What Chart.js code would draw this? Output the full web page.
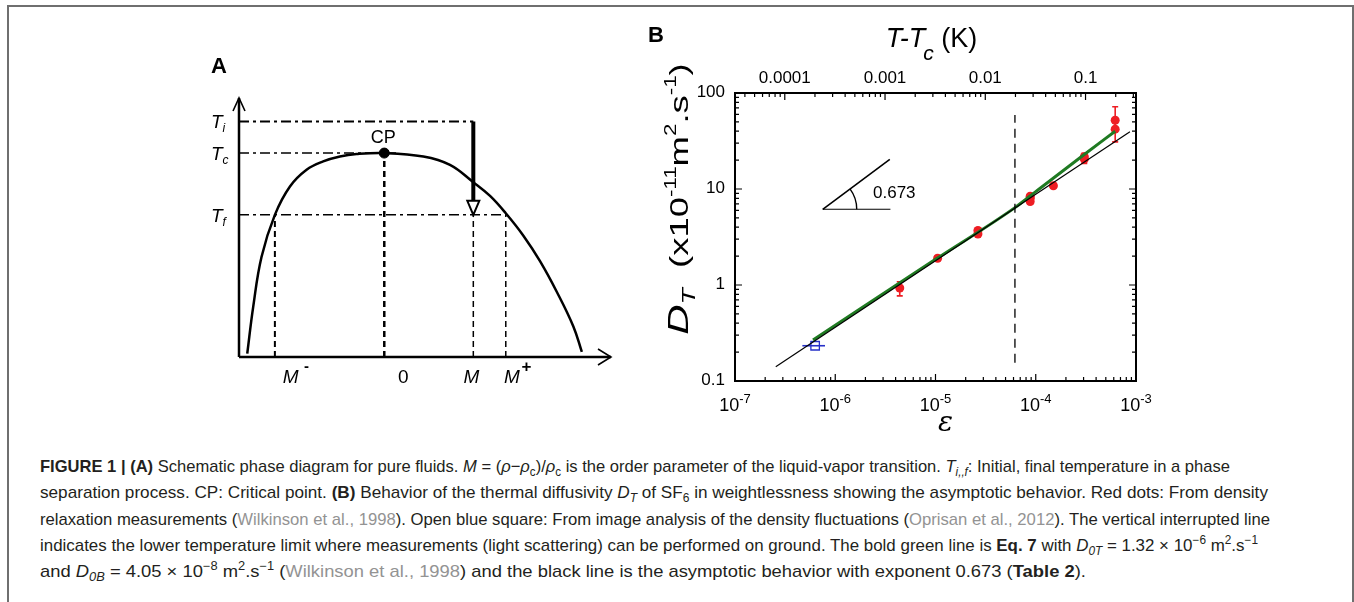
<!DOCTYPE html>
<html>
<head>
<meta charset="utf-8">
<script src="https://cdn.jsdelivr.net/npm/chart.js@4.4.1/dist/chart.umd.min.js"></script>
<style>
html, body { margin: 0; padding: 0; background: #fff; }
body { width: 1354px; height: 602px; position: relative; overflow: hidden; font-family: "Liberation Sans", Arial, sans-serif; }
#marco { position: absolute; left: 7px; top: 5px; width: 1347px; height: 640px; border: 2px solid #6f6f6f; border-bottom: none; box-sizing: border-box; }
#cajaA { position: absolute; left: 190px; top: 40px; }
#cajaB { position: absolute; left: 640px; top: 15px; }
#leyenda { position: absolute; left: 40px; top: 454px; font-family: "Liberation Sans", sans-serif; font-size: 17px; line-height: 26.3px; color: #231f20; }
#leyenda div { white-space: nowrap; width: max-content; transform-origin: 0 50%; }
#leyenda sub, #leyenda sup { font-size: 70%; line-height: 0; }
.cita { color: #939393; }
</style>
</head>
<body>
<div id="marco"></div>
<div id="cajaA"><canvas id="graficaA" width="440" height="360"></canvas></div>
<div id="cajaB"><canvas id="graficaB" width="520" height="430"></canvas></div>
<div id="leyenda">
  <div><b>FIGURE 1 | (A)</b> Schematic phase diagram for pure fluids. <i>M</i> = (<i>ρ</i>−<i>ρ</i><sub>c</sub>)/<i>ρ</i><sub>c</sub> is the order parameter of the liquid-vapor transition. <i>T</i><sub><i>i,,f</i></sub>: Initial, final temperature in a phase</div>
  <div>separation process. CP: Critical point. <b>(B)</b> Behavior of the thermal diffusivity <i>D</i><sub><i>T</i></sub> of SF<sub>6</sub> in weightlessness showing the asymptotic behavior. Red dots: From density</div>
  <div>relaxation measurements (<span class="cita">Wilkinson et al., 1998</span>). Open blue square: From image analysis of the density fluctuations (<span class="cita">Oprisan et al., 2012</span>). The vertical interrupted line</div>
  <div>indicates the lower temperature limit where measurements (light scattering) can be performed on ground. The bold green line is <b>Eq. 7</b> with <i>D</i><sub><i>0T</i></sub> = 1.32 × 10<sup>−6</sup> m<sup>2</sup>.s<sup>−1</sup></div>
  <div>and <i>D</i><sub><i>0B</i></sub> = 4.05 × 10<sup>−8</sup> m<sup>2</sup>.s<sup>−1</sup> (<span class="cita">Wilkinson et al., 1998</span>) and the black line is the asymptotic behavior with exponent 0.673 (<b>Table 2</b>).</div>
</div>
<script>
// ---------- Panel A: diagrama de fases (esquema) ----------
// curva de coexistencia, M y T/Tc
const curvaM = [-1.245, -1.191, -1.115, -0.994, -0.857, -0.706, -0.555, -0.403, -0.251, 0, 0.355, 0.597, 0.809, 0.961, 1.104, 1.264, 1.415, 1.567, 1.718, 1.795];
const curvaT = [0.017, 0.246, 0.492, 0.697, 0.836, 0.918, 0.959, 0.983, 0.995, 1.0, 0.983, 0.942, 0.857, 0.79, 0.705, 0.595, 0.47, 0.32, 0.15, 0.025];

// niveles de temperatura y valores de M marcados
const nivelesT = { Ti: 1.155, Tc: 1.0, Tf: 0.697 };
const valoresM = { menos: -0.994, cero: 0, M: 0.809, mas: 1.104 };
const finLineaTc = 0.125;

// ---------- Panel B: difusividad térmica ----------
const epsRojo   = [4.4e-6, 1.05e-5, 2.65e-5, 2.65e-5, 8.8e-5, 8.8e-5, 8.8e-5, 1.5e-4, 3.05e-4, 3.05e-4, 6.2e-4, 6.2e-4];
const dRojo     = [0.93, 1.9, 3.4, 3.7, 7.4, 8.0, 8.4, 10.8, 20.5, 21.7, 42, 52];
const dRojoMin  = [0.77, 1.8, 3.2, 3.5, 7.0, 7.6, 8.0, 10.3, 18.5, 20.5, 31, 43];
const dRojoMax  = [1.08, 2.0, 3.6, 3.9, 7.8, 8.4, 8.8, 11.3, 22.5, 23.5, 52, 72];

const epsAzul    = [6.3e-7];
const dAzul      = [0.233];
const epsAzulMin = [4.7e-7];
const epsAzulMax = [7.9e-7];

const epsVerde = [6.0e-7, 1e-5, 6.2e-5, 1e-4, 3e-4, 6.2e-4];
const dVerde   = [0.267, 1.85, 6.4, 9.4, 22.6, 40];

const epsAsintota = [2.55e-7, 8.7e-4];
const dAsintota   = [0.141, 39.5];

const epsLimite = [6.2e-5, 6.2e-5];
const dLimite   = [0.155, 59];

// triángulo de pendiente 0.673
const epsPendiente = [7.5e-7, 3.5e-6];
const dPendiente   = [6.15, 20.4];
const epsBase      = [7.5e-7, 3.55e-6];
const dBase        = [6.15, 6.15];
const textoPendiente = '0.673';
const posTextoPendiente = [2.38e-6, 9.1];

// ejes
const ticksEps = [1e-7, 1e-6, 1e-5, 1e-4, 1e-3];
const expEps   = ['-7', '-6', '-5', '-4', '-3'];
const ticksD   = [0.1, 1, 10, 100];
const etiquetasD = ['0.1', '1', '10', '100'];
const ticksDT  = [0.0001, 0.001, 0.01, 0.1];
const etiquetasDT = ['0.0001', '0.001', '0.01', '0.1'];
const Tc = 318.7; // K, SF6

const colorRojo = '#ee1d23';
const colorVerde = '#1f7a22';
const colorAzul = '#2630c8';

// ancho de cada línea del pie (px), para imitar la tipografía condensada
const anchosLeyenda = [1190, 1228, 1230, 1218, 1046];

const pares = (xs, ys) => xs.map((v, i) => ({ x: v, y: ys[i] }));

// texto con subíndice / superíndice
function textoCompuesto(ctx, partes, x, y, alin) {
    let ancho = 0;
    partes.forEach(p => { ctx.font = p.f; ancho += ctx.measureText(p.t).width + (p.dx || 0); });
    let cx = alin === 'center' ? x - ancho / 2 : (alin === 'right' ? x - ancho : x);
    ctx.textAlign = 'left';
    partes.forEach(p => {
        ctx.font = p.f;
        cx += p.dx || 0;
        ctx.fillText(p.t, cx, y + (p.dy || 0));
        cx += ctx.measureText(p.t).width;
    });
}

const pluginA = {
    id: 'esquemaA',
    beforeDatasetsDraw(chart) {
        const ctx = chart.ctx, a = chart.chartArea;
        ctx.save();
        ctx.strokeStyle = '#000';
        // ejes con flecha
        ctx.lineWidth = 2.5;
        ctx.beginPath();
        ctx.moveTo(a.left, a.bottom); ctx.lineTo(a.right, a.bottom);
        ctx.moveTo(a.left, a.bottom); ctx.lineTo(a.left, a.top);
        ctx.stroke();
        ctx.lineWidth = 1.6;
        ctx.beginPath();
        ctx.moveTo(a.right - 13, a.bottom - 8); ctx.lineTo(a.right, a.bottom); ctx.lineTo(a.right - 13, a.bottom + 8);
        ctx.moveTo(a.left - 6, a.top + 13); ctx.lineTo(a.left, a.top); ctx.lineTo(a.left + 6, a.top + 13);
        ctx.stroke();
        ctx.restore();
    },
    afterDatasetsDraw(chart) {
        const ctx = chart.ctx, x = chart.scales.x, y = chart.scales.y, a = chart.chartArea;
        ctx.save();
        // punta de flecha del enfriamiento
        const px = x.getPixelForValue(valoresM.M), py = y.getPixelForValue(nivelesT.Tf);
        ctx.fillStyle = '#fff'; ctx.strokeStyle = '#000'; ctx.lineWidth = 2;
        ctx.beginPath();
        ctx.moveTo(px - 6, py - 14); ctx.lineTo(px + 6, py - 14); ctx.lineTo(px, py); ctx.closePath();
        ctx.fill(); ctx.stroke();

        ctx.fillStyle = '#000';
        ctx.textBaseline = 'alphabetic';
        const it = 'italic 19px "Liberation Sans"', sub = 'italic 12px "Liberation Sans"';
        const etiqT = [['i', nivelesT.Ti], ['c', nivelesT.Tc], ['f', nivelesT.Tf]];
        etiqT.forEach(([s, v]) => {
            const yy = y.getPixelForValue(v) + 7;
            textoCompuesto(ctx, [{ t: 'T', f: it }, { t: s, f: sub, dy: 4 }], 21, yy, 'left');
        });
        const base = a.bottom + 26;
        const bold = 'bold 15px "Liberation Sans"';
        textoCompuesto(ctx, [{ t: 'M', f: it }, { t: ' ', f: it }, { t: '-', f: bold, dy: -12 }], x.getPixelForValue(valoresM.menos) + 21, base, 'center');
        textoCompuesto(ctx, [{ t: '0', f: '19px "Liberation Sans"' }], x.getPixelForValue(valoresM.cero) + 19, base, 'center');
        textoCompuesto(ctx, [{ t: 'M', f: it }], x.getPixelForValue(valoresM.M) - 2, base, 'center');
        textoCompuesto(ctx, [{ t: 'M', f: it }, { t: ' ', f: '6px "Liberation Sans"' }, { t: '+', f: 'bold 17px "Liberation Sans"', dy: -11 }], x.getPixelForValue(valoresM.mas) + 12, base, 'center');
        ctx.font = '18px "Liberation Sans"'; ctx.textAlign = 'center';
        ctx.fillText('CP', x.getPixelForValue(valoresM.cero) - 1, y.getPixelForValue(nivelesT.Tc) - 10);
        ctx.font = 'bold 22px "Liberation Sans"'; ctx.textAlign = 'left';
        ctx.fillText('A', 21, 33);
        ctx.restore();
    }
};

const lineaPunteada = (xs, ys, ancho, guion) => ({
    data: pares(xs, ys), showLine: true, borderColor: '#000', borderWidth: ancho,
    borderDash: guion, pointRadius: 0, fill: false
});

const xMin = curvaM[0] - 0.075;
new Chart(document.getElementById('graficaA'), {
    type: 'scatter',
    data: {
        datasets: [
            lineaPunteada([xMin, valoresM.M], [nivelesT.Ti, nivelesT.Ti], 2, [10, 4, 3, 4]),
            lineaPunteada([xMin, finLineaTc], [nivelesT.Tc, nivelesT.Tc], 1.5, [10, 4, 3, 4]),
            lineaPunteada([xMin, valoresM.mas], [nivelesT.Tf, nivelesT.Tf], 1.5, [10, 4, 3, 4]),
            lineaPunteada([valoresM.menos, valoresM.menos], [0, nivelesT.Tf], 2, [6, 4]),
            lineaPunteada([valoresM.cero, valoresM.cero], [0, nivelesT.Tc], 2.5, [6, 4]),
            lineaPunteada([valoresM.M, valoresM.M], [0, nivelesT.Tf], 1.5, [6, 4]),
            lineaPunteada([valoresM.mas, valoresM.mas], [0, nivelesT.Tf], 1.5, [6, 4]),
            lineaPunteada([valoresM.M, valoresM.M], [nivelesT.Ti, nivelesT.Tf + 0.06], 4, []),
            {
                data: pares(curvaM, curvaT), showLine: true, borderColor: '#000', borderWidth: 2.5,
                tension: 0.4, pointRadius: 0
            },
            {
                data: [{ x: valoresM.cero, y: nivelesT.Tc }], pointRadius: 5,
                backgroundColor: '#000', borderColor: '#000'
            }
        ]
    },
    options: {
        responsive: false, animation: false, devicePixelRatio: 1, events: [],
        layout: { padding: { left: 49, top: 58, right: 19, bottom: 43 } },
        plugins: { legend: { display: false }, tooltip: { enabled: false } },
        scales: {
            x: { type: 'linear', display: false, min: xMin, max: 2.06 },
            y: { type: 'linear', display: false, min: 0, max: 1.27 }
        }
    },
    plugins: [pluginA]
});

// ---------- Panel B ----------
function marcasLog(min, max, fn) {
    for (let d = Math.floor(Math.log10(min)); d <= Math.ceil(Math.log10(max)); d++) {
        for (let k = 1; k <= 9; k++) {
            const v = k * Math.pow(10, d);
            if (v < min * 0.999 || v > max * 1.001) continue;
            fn(v, k === 1);
        }
    }
}

const pluginB = {
    id: 'ejesB',
    beforeDatasetsDraw(chart) {
        const ctx = chart.ctx, x = chart.scales.x, y = chart.scales.y;
        ctx.save();
        // barras de error
        ctx.strokeStyle = colorRojo; ctx.lineWidth = 1.6;
        epsRojo.forEach((e, i) => {
            const px = x.getPixelForValue(e);
            const y1 = y.getPixelForValue(dRojoMin[i]), y2 = y.getPixelForValue(dRojoMax[i]);
            ctx.beginPath();
            ctx.moveTo(px, y1); ctx.lineTo(px, y2);
            ctx.moveTo(px - 3, y1); ctx.lineTo(px + 3, y1);
            ctx.moveTo(px - 3, y2); ctx.lineTo(px + 3, y2);
            ctx.stroke();
        });
        ctx.strokeStyle = colorAzul;
        epsAzul.forEach((e, i) => {
            const py = y.getPixelForValue(dAzul[i]);
            ctx.beginPath();
            ctx.moveTo(x.getPixelForValue(epsAzulMin[i]), py);
            ctx.lineTo(x.getPixelForValue(epsAzulMax[i]), py);
            ctx.stroke();
        });
        // arco del ángulo
        const vx = x.getPixelForValue(epsPendiente[0]), vy = y.getPixelForValue(dPendiente[0]);
        const ang = Math.atan2(y.getPixelForValue(dPendiente[1]) - vy, x.getPixelForValue(epsPendiente[1]) - vx);
        ctx.strokeStyle = '#000'; ctx.lineWidth = 1.4;
        ctx.beginPath();
        ctx.arc(vx, vy, 34, ang, 0);
        ctx.stroke();
        ctx.fillStyle = '#000';
        ctx.font = '17px "Liberation Sans"'; ctx.textBaseline = 'middle'; ctx.textAlign = 'left';
        ctx.fillText(textoPendiente, x.getPixelForValue(posTextoPendiente[0]), y.getPixelForValue(posTextoPendiente[1]));
        ctx.restore();
    },
    afterDraw(chart) {
        const ctx = chart.ctx, x = chart.scales.x, x2 = chart.scales.x2, y = chart.scales.y, a = chart.chartArea;
        ctx.save();
        ctx.strokeStyle = '#000';
        ctx.lineWidth = 2;
        ctx.strokeRect(a.left, a.top, a.right - a.left, a.bottom - a.top);
        ctx.lineWidth = 1.2;
        ctx.beginPath();
        marcasLog(x.min, x.max, (v, mayor) => {
            const p = x.getPixelForValue(v), l = mayor ? 7 : 4;
            ctx.moveTo(p, a.bottom); ctx.lineTo(p, a.bottom - l);
        });
        marcasLog(x2.min, x2.max, (v, mayor) => {
            const p = x2.getPixelForValue(v), l = mayor ? 7 : 4;
            ctx.moveTo(p, a.top); ctx.lineTo(p, a.top + l);
        });
        marcasLog(y.min, y.max, (v, mayor) => {
            const p = y.getPixelForValue(v), l = mayor ? 7 : 4;
            ctx.moveTo(a.left, p); ctx.lineTo(a.left + l, p);
            ctx.moveTo(a.right, p); ctx.lineTo(a.right - l, p);
        });
        ctx.stroke();

        ctx.fillStyle = '#000';
        ctx.textBaseline = 'alphabetic';
        const f18 = '18px "Liberation Sans"', f13 = '13px "Liberation Sans"';
        ticksEps.forEach((v, i) => {
            textoCompuesto(ctx, [{ t: '10', f: f18 }, { t: expEps[i], f: f13, dy: -8 }], x.getPixelForValue(v), a.bottom + 30, 'center');
        });
        ctx.font = '17px "Liberation Sans"';
        ctx.textAlign = 'right'; ctx.textBaseline = 'middle';
        ticksD.forEach((v, i) => ctx.fillText(etiquetasD[i], a.left - 10, y.getPixelForValue(v) - 1));
        ctx.textAlign = 'center'; ctx.textBaseline = 'alphabetic';
        ticksDT.forEach((v, i) => ctx.fillText(etiquetasDT[i], x2.getPixelForValue(v), a.top - 10));

        // títulos
        const it27 = 'italic 27px "Liberation Sans"', r27 = '27px "Liberation Sans"';
        textoCompuesto(ctx, [{ t: 'T-T', f: it27 }, { t: 'c', f: 'italic 21px "Liberation Sans"', dy: 13, dx: -2 }, { t: ' (K)', f: r27 }], (a.left + a.right) / 2 - 4, 32, 'center');
        ctx.font = 'italic 28px "DejaVu Serif"'; ctx.textAlign = 'center';
        ctx.fillText('ε', (a.left + a.right) / 2 + 10, a.bottom + 50);
        ctx.font = 'bold 22px "Liberation Sans"'; ctx.textAlign = 'left';
        ctx.fillText('B', 8, 27);

        // título del eje y, estirado a lo largo como en el original
        ctx.translate(48, 184);
        ctx.rotate(-Math.PI / 2);
        ctx.scale(1.4, 1);
        const r26 = '26px "Liberation Sans"', s16 = '16px "Liberation Sans"';
        textoCompuesto(ctx, [
            { t: 'D', f: 'italic 30px "Liberation Sans"' }, { t: 'T', f: 'italic 19px "Liberation Sans"', dy: 7 },
            { t: '  (x10', f: r26 }, { t: '-11', f: s16, dy: -12 }, { t: 'm', f: r26 }, { t: '2', f: s16, dy: -12 },
            { t: '.s', f: r26 }, { t: '-1', f: s16, dy: -12 }, { t: ')', f: r26 }
        ], 0, 0, 'center');
        ctx.restore();
    }
};

new Chart(document.getElementById('graficaB'), {
    type: 'scatter',
    data: {
        datasets: [
            { data: pares(epsLimite, dLimite), showLine: true, borderColor: '#000', borderWidth: 1.3, borderDash: [9, 6], pointRadius: 0 },
            { data: pares(epsAsintota, dAsintota), showLine: true, borderColor: '#000', borderWidth: 1.2, pointRadius: 0 },
            { data: pares(epsVerde, dVerde), showLine: true, borderColor: colorVerde, borderWidth: 3, pointRadius: 0, cubicInterpolationMode: 'monotone' },
            { data: pares(epsPendiente, dPendiente), showLine: true, borderColor: '#000', borderWidth: 1.6, pointRadius: 0 },
            { data: pares(epsBase, dBase), showLine: true, borderColor: '#000', borderWidth: 1.2, pointRadius: 0 },
            { data: pares(epsRojo, dRojo), pointRadius: 4.5, backgroundColor: colorRojo, borderColor: colorRojo, borderWidth: 0 },
            { data: pares(epsAzul, dAzul), pointStyle: 'rect', pointRadius: 6, backgroundColor: 'rgba(255,255,255,0)', borderColor: colorAzul, borderWidth: 1.3 }
        ]
    },
    options: {
        responsive: false, animation: false, devicePixelRatio: 1, events: [],
        layout: { padding: { left: 95, top: 78, right: 24, bottom: 64 } },
        plugins: { legend: { display: false }, tooltip: { enabled: false } },
        scales: {
            x: { type: 'logarithmic', display: false, min: ticksEps[0], max: ticksEps[ticksEps.length - 1] },
            x2: { type: 'logarithmic', axis: 'x', position: 'top', display: false, min: ticksEps[0] * Tc, max: ticksEps[ticksEps.length - 1] * Tc },
            y: { type: 'logarithmic', display: false, min: ticksD[0], max: ticksD[ticksD.length - 1] }
        }
    },
    plugins: [pluginB]
});

// ajustar cada línea del pie al ancho del original
document.querySelectorAll('#leyenda div').forEach((linea, i) => {
    const w = linea.getBoundingClientRect().width;
    linea.style.transform = 'scaleX(' + (anchosLeyenda[i] / w).toFixed(4) + ')';
});
</script>
</body>
</html>
